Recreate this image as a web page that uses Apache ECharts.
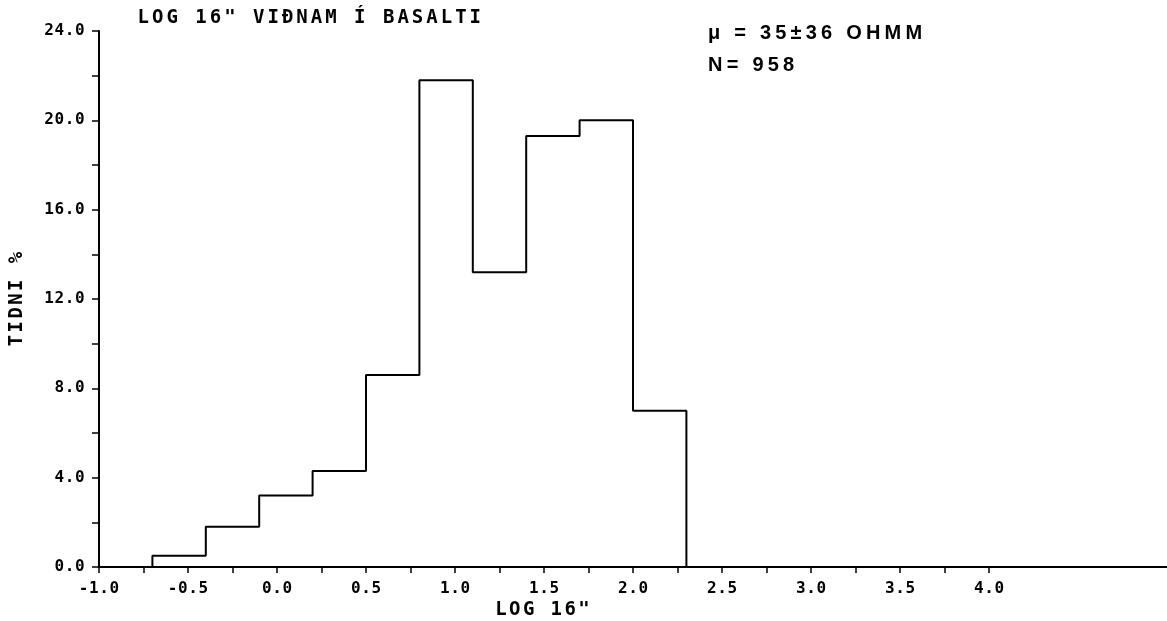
<!DOCTYPE html>
<html>
<head>
<meta charset="utf-8">
<title>LOG 16" VIÐNAM Í BASALTI</title>
<script src="https://cdn.jsdelivr.net/npm/echarts@6/dist/echarts.min.js"></script>
<style>
  html, body { margin: 0; padding: 0; background: #fff; }
  #chart { width: 1167px; height: 621px; }
</style>
</head>
<body>
<div id="chart"></div>
<script>
// Histogram of log resistivity (16" normal log) in basalt
const binEdges = [-0.7, -0.4, -0.1, 0.2, 0.5, 0.8, 1.1, 1.4, 1.7, 2.0, 2.3];
const frequency = [0.5, 1.8, 3.2, 4.3, 8.6, 21.8, 13.2, 19.3, 20.0, 7.0];

const xTickValues = [-1.0, -0.75, -0.5, -0.25, 0.0, 0.25, 0.5, 0.75, 1.0, 1.25, 1.5,
                     1.75, 2.0, 2.25, 2.5, 2.75, 3.0, 3.25, 3.5, 3.75, 4.0];
const xLabelValues = [-1.0, -0.5, 0.0, 0.5, 1.0, 1.5, 2.0, 2.5, 3.0, 3.5, 4.0];
const yTickValues = [0, 2, 4, 6, 8, 10, 12, 14, 16, 18, 20, 22, 24];
const yLabelValues = [0, 4, 8, 12, 16, 20, 24];

const titleText = 'LOG 16" VIÐNAM Í BASALTI';
const xAxisTitle = 'LOG 16"';
const yAxisTitle = 'TIDNI %';
const statLine1 = 'μ = 35±36 OHMM';
const statLine2 = 'N= 958';

// step outline: rise at the first edge, one point per bin, drop at the last edge
const outline = [[binEdges[0], 0]];
frequency.forEach((f, i) => outline.push([binEdges[i], f]));
outline.push([binEdges[binEdges.length - 1], 0]);

// plotter-style lettering: every character is its own rich token so it can be tracked out
function spaced(text, key) {
  return Array.from(text).map(c => '{' + key + '|' + c + '}').join('');
}

const mono = 'DejaVu Sans Mono';
const richStyles = {
  t: { fontFamily: mono, fontSize: 19, fontWeight: 'bold', color: '#000', padding: [0, 1.5, 0, 1.5] },
  n: { fontFamily: mono, fontSize: 19, fontWeight: 'bold', color: '#000', padding: [0, 1.2, 0, 1.2] },
  k: { fontFamily: mono, fontSize: 16, fontWeight: 'bold', color: '#000', padding: [0, 0.3, 0, 0.3] },
  a: { fontFamily: 'Liberation Sans', fontSize: 20, fontWeight: 'bold', color: '#000', padding: [0, 2.1, 0, 2.1] }
};
const tickFont = { fontFamily: mono, fontSize: 16, fontWeight: 'bold', color: '#000' };

const chart = echarts.init(document.getElementById('chart'), null, { renderer: 'canvas' });

chart.setOption({
  backgroundColor: '#fff',
  animation: false,
  title: [
    { text: spaced(titleText, 't'), left: 136, top: 9, padding: 0,
      textStyle: { fontSize: 19, rich: richStyles } },
    { text: spaced(statLine1, 'a'), left: 706, top: 23, padding: 0,
      textStyle: { fontSize: 20, rich: richStyles } },
    { text: spaced(statLine2, 'a'), left: 706, top: 55, padding: 0,
      textStyle: { fontSize: 20, rich: richStyles } },
    { text: spaced(xAxisTitle, 'n'), left: 494, top: 601, padding: 0,
      textStyle: { fontSize: 19, rich: richStyles } }
  ],
  grid: { left: 95, right: -8, top: 31, bottom: 54, containLabel: false },
  xAxis: {
    type: 'value',
    min: -1,
    max: 5,
    splitLine: { show: false },
    axisLine: { show: true, onZero: false, lineStyle: { color: '#000', width: 2 } },
    axisTick: { show: true, customValues: xTickValues, length: 6, inside: false,
                lineStyle: { color: '#000', width: 1.5 } },
    axisLabel: Object.assign({
      customValues: xLabelValues,
      margin: 14,
      formatter: v => spaced(Number(v).toFixed(1), 'k'),
      rich: richStyles
    }, tickFont)
  },
  yAxis: {
    type: 'value',
    min: 0,
    max: 24,
    name: spaced(yAxisTitle, 'n'),
    nameLocation: 'middle',
    nameRotate: 90,
    nameGap: 72,
    nameTextStyle: { fontSize: 19, rich: richStyles },
    splitLine: { show: false },
    axisLine: { show: true, onZero: false, lineStyle: { color: '#000', width: 2 } },
    axisTick: { show: true, customValues: yTickValues, length: 7, inside: false,
                lineStyle: { color: '#000', width: 1.5 } },
    axisLabel: Object.assign({
      customValues: yLabelValues,
      margin: 14,
      formatter: v => spaced(Number(v).toFixed(1), 'k'),
      rich: richStyles
    }, tickFont)
  },
  series: [{
    type: 'line',
    step: 'end',
    data: outline,
    symbol: 'none',
    clip: false,
    lineStyle: { color: '#000', width: 2 },
    z: 3
  }]
});
</script>
</body>
</html>
